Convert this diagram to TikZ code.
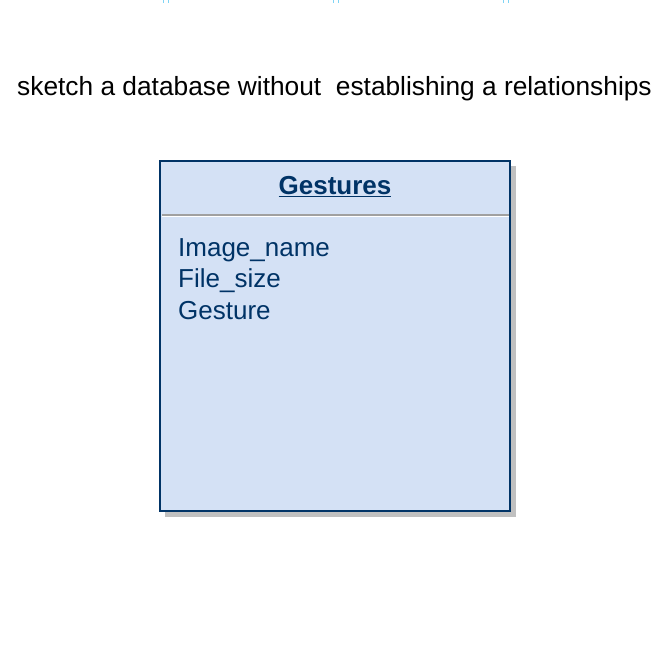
\documentclass[tikz,border=0pt]{standalone}
\usepackage{fontspec}
\setmainfont{Liberation Sans}
\usetikzlibrary{positioning}

\definecolor{tablefill}{HTML}{D4E1F5}
\definecolor{tableline}{HTML}{003366}
\definecolor{shadowgray}{HTML}{C0C0C0}
\definecolor{sepgray}{HTML}{A0A0A0}
\definecolor{handleblue}{HTML}{80D4F5}

\tikzset{
  fieldtext/.style={text=tableline, font=\fontsize{26}{31.5}\selectfont, inner sep=0pt, align=left},
  headtext/.style={font=\fontsize{26.3}{30}\selectfont, inner sep=0pt}
}

\begin{document}
\begin{tikzpicture}[x=1pt,y=-1pt]
  \useasboundingbox (0,0) rectangle (668,670);

  % handles at the top
  \foreach \hx in {163,333,503}{
    \draw[handleblue, line width=1pt] (\hx,0) -- (\hx,3);
    \draw[handleblue, line width=1pt] (\hx+5,0) -- (\hx+5,3);
  }

  % heading
  \node[headtext] (heading) at (334.5,89) {sketch a database without\ \ establishing a relationships};

  % table with shadow
  \fill[shadowgray] (165,166) rectangle (515.5,516.5);
  \draw[tableline, fill=tablefill, line width=2.5pt] (160,161) rectangle (510,511);
  \draw[sepgray, line width=2pt] (161.5,214.5) -- (508.5,214.5);
  \draw[white, line width=1pt] (161.5,216.5) -- (508.5,216.5);

  \node[fieldtext] (gestures) at (335,187) {\underline{\textbf{Gestures}}};
  \node[fieldtext, anchor=north west] (fields) at (178,238) {Image\_name\\File\_size\\Gesture};
\end{tikzpicture}
\end{document}
